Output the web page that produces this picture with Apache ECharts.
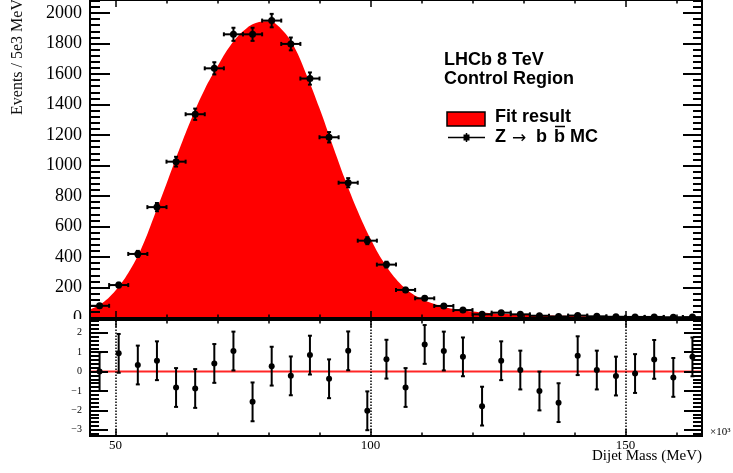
<!DOCTYPE html>
<html>
<head>
<meta charset="utf-8">
<script src="https://cdn.jsdelivr.net/npm/echarts@6/dist/echarts.min.js"></script>
<style>
html, body { margin: 0; padding: 0; background: #fff; }
#main { width: 733px; height: 473px; }
</style>
</head>
<body>
<div id="main"></div>
<script>
// dijet mass bins (x10^3 MeV), bin width 3.75
var binCenters = [46.875, 50.625, 54.375, 58.125, 61.875, 65.625, 69.375, 73.125,
  76.875, 80.625, 84.375, 88.125, 91.875, 95.625, 99.375, 103.125,
  106.875, 110.625, 114.375, 118.125, 121.875, 125.625, 129.375, 133.125,
  136.875, 140.625, 144.375, 148.125, 151.875, 155.625, 159.375, 163.125];
var binWidth = 3.75;
// Z -> bb MC
var events = [80, 216, 420, 727, 1025, 1336, 1637, 1860, 1860, 1950, 1797, 1570, 1185, 887, 507, 350,
  184, 129, 79, 52, 24, 35, 24, 15, 10, 16, 11, 8, 7, 7, 5, 6];
var eventErr = [9, 15, 20, 27, 32, 37, 40, 43, 43, 44, 42, 40, 34, 30, 23, 19,
  14, 11, 9, 7, 5, 6, 5, 4, 3, 4, 3, 3, 3, 3, 2, 2];
// pulls in lower pad
var pulls = [0, 0.94, 0.34, 0.56, -0.82, -0.87, 0.42, 1.06, -1.56, 0.28, -0.22, 0.85, -0.37, 1.07, -2.02, 0.64,
  -0.82, 1.40, 1.06, 0.76, -1.78, 0.56, 0.08, -1.0, -1.6, 0.82, 0.08, -0.23, -0.1, 0.63, -0.3, 0.76];
var pullErr = 1;
// fit result curve
var fitMass = [45, 47.5, 50, 52.5, 55, 57.5, 60, 62.5, 65, 67.5, 70, 72.5, 75, 77.5, 80, 82.5,
  85, 87.5, 90, 92.5, 95, 97.5, 100, 102.5, 105, 107.5, 110, 112.5, 115, 117.5, 120, 122.5,
  125, 127.5, 130, 132.5, 135, 137.5, 140, 142.5, 145, 147.5, 150, 152.5, 155, 157.5, 160, 162.5, 165];
var fitEvents = [55, 100, 180, 295, 450, 660, 880, 1105, 1315, 1500, 1650, 1785, 1880, 1935, 1945, 1895,
  1780, 1590, 1375, 1140, 910, 700, 520, 370, 255, 175, 125, 92, 68, 52, 42, 34,
  28, 25, 22, 19, 17, 15, 13, 11, 10, 9, 8, 7, 6, 6, 5, 5, 4];
// axis ticks
var eventTicks = [0, 200, 400, 600, 800, 1000, 1200, 1400, 1600, 1800, 2000];
var pullTicks = [-3, -2, -1, 0, 1, 2];
var massTicks = [50, 100, 150];

var chart = echarts.init(document.getElementById('main'));
var serif = 'Liberation Serif';

function steps(a, b, s) {
  var r = [];
  for (var v = a; v <= b + 1e-9; v += s) r.push(Math.round(v * 100) / 100);
  return r;
}
var eventMinor = steps(0, 2080, 40);
var pullMinor = steps(-3.2, 2.6, 0.2);
var massMinor = steps(50, 160, 10);

function xAx(grid, pos, ticks, len, labels) {
  return {
    type: 'value', gridIndex: grid, position: pos, min: 45, max: 165, z: 5,
    axisLine: { show: true, onZero: false, lineStyle: { color: '#000', width: 2 } },
    axisTick: { show: true, inside: true, length: len, customValues: ticks, lineStyle: { color: '#000', width: 1.5 } },
    axisLabel: labels ? { show: true, customValues: ticks, margin: 3, fontFamily: serif, fontSize: 13, color: '#000',
      formatter: function (v) { return String(v); } } : { show: false },
    splitLine: { show: false }
  };
}
function yAx(grid, pos, mn, mx, ticks, len, label) {
  return {
    type: 'value', gridIndex: grid, position: pos, min: mn, max: mx, z: 5,
    axisLine: { show: true, onZero: false, lineStyle: { color: '#000', width: 2 } },
    axisTick: { show: true, inside: true, length: len, customValues: ticks, lineStyle: { color: '#000', width: 2 } },
    axisLabel: label ? Object.assign({ show: true, customValues: ticks, color: '#000', fontFamily: serif }, label) : { show: false },
    splitLine: { show: false }
  };
}

function errBars(withX, r) {
  return function (params, api) {
    var x = api.value(0), y = api.value(1), e = api.value(2);
    var c = api.coord([x, y]);
    var hi = api.coord([x, y + e]), lo = api.coord([x, y - e]);
    var ls = { stroke: '#000', lineWidth: 2 };
    var kids = [
      { type: 'line', shape: { x1: c[0], y1: hi[1], x2: c[0], y2: lo[1] }, style: ls },
      { type: 'line', shape: { x1: c[0] - 2, y1: hi[1], x2: c[0] + 2, y2: hi[1] }, style: ls },
      { type: 'line', shape: { x1: c[0] - 2, y1: lo[1], x2: c[0] + 2, y2: lo[1] }, style: ls }
    ];
    if (withX) {
      var l = api.coord([x - binWidth / 2, y]), rr = api.coord([x + binWidth / 2, y]);
      kids.push({ type: 'line', shape: { x1: l[0], y1: c[1], x2: rr[0], y2: c[1] }, style: ls });
      kids.push({ type: 'line', shape: { x1: l[0], y1: c[1] - 2, x2: l[0], y2: c[1] + 2 }, style: ls });
      kids.push({ type: 'line', shape: { x1: rr[0], y1: c[1] - 2, x2: rr[0], y2: c[1] + 2 }, style: ls });
    }
    kids.push({ type: 'circle', shape: { cx: c[0], cy: c[1], r: r }, style: { fill: '#000' } });
    return { type: 'group', children: kids };
  };
}

var plainFmt = function (v) { return String(v); };
var pullFmt = function (v) { return v < 0 ? '\u2212' + (-v) : String(v); };

function label(text, x, y, font, align) {
  return { type: 'text', x: x, y: y, z: 20,
    style: { text: text, font: font, fill: '#000', align: align || 'left', verticalAlign: 'middle' } };
}
var bold = 'bold 18px "Liberation Sans"';

chart.setOption({
  backgroundColor: '#fff',
  animation: false,
  grid: [
    { left: 90, right: 31, top: 0, height: 318 },
    { left: 90, right: 31, top: 320, height: 116 }
  ],
  xAxis: [
    xAx(0, 'bottom', massTicks, 7, false),
    xAx(0, 'bottom', massMinor, 3.5, false),
    xAx(0, 'top', massTicks, 7, false),
    xAx(0, 'top', massMinor, 3.5, false),
    xAx(1, 'bottom', massTicks, 7, true),
    xAx(1, 'bottom', massMinor, 3.5, false),
    xAx(1, 'top', massTicks, 7, false),
    xAx(1, 'top', massMinor, 3.5, false)
  ],
  yAxis: [
    yAx(0, 'left', 0, 2085, eventTicks, 20, { fontSize: 18, margin: 8, formatter: plainFmt }),
    yAx(0, 'left', 0, 2085, eventMinor, 10, null),
    yAx(0, 'right', 0, 2085, eventTicks, 19, null),
    yAx(0, 'right', 0, 2085, eventMinor, 9, null),
    yAx(1, 'left', -3.32, 2.66, pullTicks, 18, { fontSize: 10, margin: 8, formatter: pullFmt }),
    yAx(1, 'left', -3.32, 2.66, pullMinor, 9, null),
    yAx(1, 'right', -3.32, 2.66, pullTicks, 18, null),
    yAx(1, 'right', -3.32, 2.66, pullMinor, 9, null)
  ],
  series: [
    {
      name: 'Fit result', type: 'line', xAxisIndex: 0, yAxisIndex: 0,
      data: fitMass.map(function (m, i) { return [m, fitEvents[i]]; }),
      smooth: 0.4, symbol: 'none', z: 1,
      lineStyle: { width: 0 },
      areaStyle: { color: '#ff0000', opacity: 1 }
    },
    {
      name: 'Z \u2192 b b MC', type: 'custom', xAxisIndex: 0, yAxisIndex: 0, z: 3,
      data: binCenters.map(function (m, i) { return [m, events[i], eventErr[i]]; }),
      renderItem: errBars(true, 3.5), clip: true
    },
    {
      type: 'line', xAxisIndex: 4, yAxisIndex: 4, z: 2,
      data: [[45, 0], [165, 0]], symbol: 'none',
      lineStyle: { color: '#ff0000', width: 2, opacity: 0.85 },
      markLine: {
        silent: true, symbol: 'none', label: { show: false },
        lineStyle: { color: '#000', type: 'dotted', width: 1.5 },
        data: massTicks.map(function (m) { return { xAxis: m }; })
      }
    },
    {
      type: 'custom', xAxisIndex: 4, yAxisIndex: 4, z: 3,
      data: binCenters.map(function (m, i) { return [m, pulls[i], pullErr]; }),
      renderItem: errBars(false, 3), clip: true
    }
  ],
  graphic: [
    // lower pad hides the bottom of the upper pad's "0" label
    { type: 'rect', z: 10, shape: { x: 40, y: 319, width: 48, height: 6 }, style: { fill: '#fff' } },
    { type: 'text', x: 18, y: 57, rotation: Math.PI / 2, z: 20,
      style: { text: 'Events / 5e3 MeV', font: '16px "Liberation Serif"', fill: '#111', align: 'center', verticalAlign: 'middle' } },
    label('Dijet Mass (MeV)', 702, 456, '15px "Liberation Serif"', 'right'),
    label('\u00d710\u00b3', 710, 432, '11px "Liberation Serif"'),
    label('LHCb 8 TeV', 444, 60, bold),
    label('Control Region', 444, 79.5, bold),
    { type: 'rect', z: 20, shape: { x: 447, y: 112, width: 38, height: 14 },
      style: { fill: '#ff0000', stroke: '#000', lineWidth: 1.5 } },
    label('Fit result', 495, 117, bold),
    { type: 'line', z: 20, shape: { x1: 448, y1: 137.5, x2: 485, y2: 137.5 }, style: { stroke: '#000', lineWidth: 1.5 } },
    { type: 'line', z: 20, shape: { x1: 466.5, y1: 133, x2: 466.5, y2: 142 }, style: { stroke: '#000', lineWidth: 1.5 } },
    { type: 'rect', z: 20, shape: { x: 463.5, y: 134.5, width: 6, height: 6 }, style: { fill: '#000' } },
    label('Z', 495, 137.5, bold),
    label('\u2192', 512, 138.5, '17px "DejaVu Sans"'),
    label('b', 536, 137.5, bold),
    label('b', 554, 137.5, bold),
    { type: 'line', z: 20, shape: { x1: 555, y1: 126.5, x2: 565, y2: 126.5 }, style: { stroke: '#000', lineWidth: 1.5 } },
    label('MC', 570, 137.5, bold)
  ]
});
</script>
</body>
</html>
